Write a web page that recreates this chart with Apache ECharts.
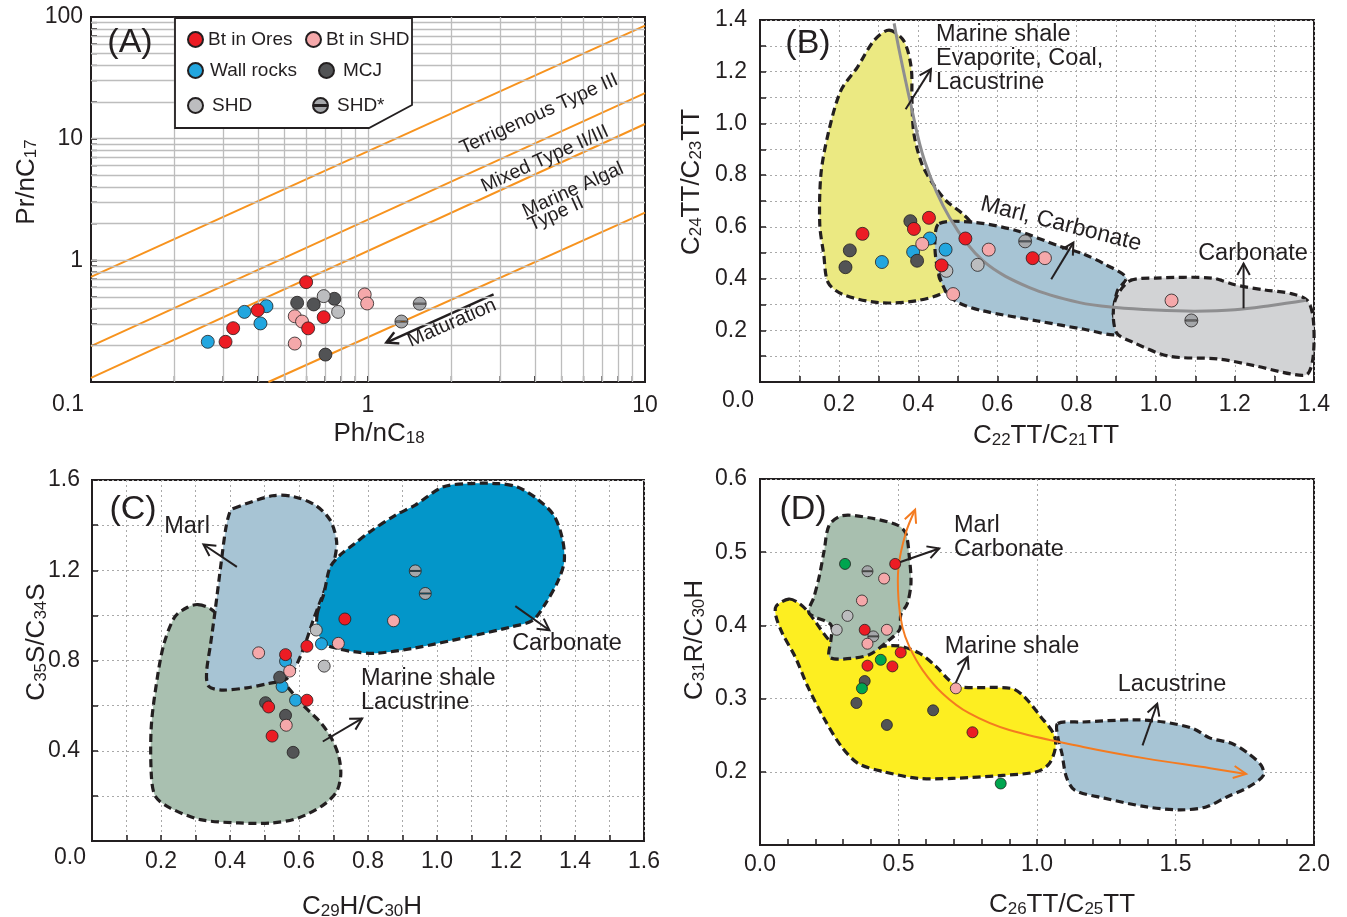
<!DOCTYPE html>
<html>
<head>
<meta charset="utf-8">
<title>Source rock biomarker plots</title>
<script src="https://cdn.jsdelivr.net/npm/echarts@6/dist/echarts.min.js"></script>
<style>
  html, body { margin: 0; background: #fff; }
  #chart { width: 1347px; height: 917px; }
</style>
</head>
<body>
<div id="chart"></div>
<script>
// ---------- (A) Pr/nC17 vs Ph/nC18 ----------
const aOres = [[0.306,0.214],[0.326,0.277],[0.400,0.389],[0.598,0.662],[0.692,0.341],[0.608,0.276]];
const aBtShd = [[0.544,0.347],[0.578,0.314],[0.544,0.207],[0.973,0.524],[0.993,0.442]];
const aWall = [[0.264,0.214],[0.358,0.377],[0.430,0.420],[0.409,0.303]];
const aMcj = [[0.555,0.448],[0.637,0.434],[0.756,0.483],[0.702,0.168]];
const aShd = [[0.692,0.508],[0.780,0.377]];
const aShdStar = [[1.32,0.314],[1.537,0.440]];
// kerogen type boundaries (two end points each)
const aTypeLines = [
  [[0.1,0.73],[10,85]],
  [[0.1,0.197],[10,23.7]],
  [[0.1,0.108],[10,13.2]],
  [[0.437,0.1],[10,2.47]]
];
const aMaturation = [[[2.84,0.524],[1.165,0.211]]];
const logGridX = [0.2,0.3,0.4,0.5,0.6,0.7,0.8,0.9,1,2,3,4,5,6,7,8,9];
const logGridY = [0.2,0.3,0.4,0.5,0.6,0.7,0.8,0.9,1,2,3,4,5,6,7,8,9,10,20,30,40,50,60,70,80,90];

// ---------- (B) C24TT/C23TT vs C22TT/C21TT ----------
const bOres = [[0.259,0.573],[0.389,0.592],[0.427,0.635],[0.519,0.555],[0.459,0.451],[0.689,0.479]];
const bBtShd = [[0.410,0.534],[0.578,0.512],[0.488,0.340],[0.720,0.479],[1.040,0.315]];
const bWall = [[0.308,0.464],[0.429,0.555],[0.387,0.503],[0.469,0.512]];
const bMcj = [[0.380,0.622],[0.227,0.509],[0.216,0.444],[0.397,0.469]];
const bShd = [[0.550,0.453],[0.471,0.430]];
const bShdStar = [[0.670,0.544],[1.090,0.238]];
const bZoneShale = [[0.326,1.361],[0.363,1.320],[0.382,1.217],[0.384,1.088],[0.389,0.959],[0.410,0.840],[0.440,0.760],[0.471,0.700],[0.514,0.648],[0.532,0.612],[0.458,0.597],[0.448,0.494],[0.453,0.404],[0.469,0.352],[0.394,0.314],[0.299,0.307],[0.209,0.339],[0.172,0.385],[0.161,0.494],[0.151,0.610],[0.154,0.804],[0.172,0.959],[0.204,1.126],[0.246,1.217],[0.288,1.320]];
const bZoneMarl = [[0.453,0.613],[0.543,0.617],[0.649,0.585],[0.755,0.526],[0.819,0.494],[0.872,0.455],[0.925,0.404],[0.903,0.352],[0.893,0.262],[0.903,0.185],[0.819,0.204],[0.702,0.236],[0.564,0.275],[0.501,0.307],[0.469,0.352],[0.448,0.443],[0.442,0.546]];
const bZoneCarb = [[0.933,0.390],[1.000,0.402],[1.142,0.402],[1.200,0.376],[1.275,0.356],[1.342,0.342],[1.383,0.316],[1.398,0.245],[1.398,0.100],[1.383,0.030],[1.342,0.031],[1.250,0.063],[1.158,0.089],[1.033,0.100],[0.942,0.154],[0.900,0.193],[0.896,0.309]];
const bTrend = [[0.339,1.387],[0.352,1.281],[0.379,1.088],[0.416,0.855],[0.479,0.636],[0.564,0.468],[0.681,0.365],[0.808,0.307],[0.900,0.288],[1.000,0.278],[1.100,0.274],[1.200,0.279],[1.292,0.296],[1.380,0.316]];
const bArrows = [[[0.368,1.055],[0.432,1.210]],[[0.736,0.397],[0.792,0.539]],[[1.222,0.285],[1.222,0.458]]];

// ---------- (C) C35S/C34S vs C29H/C30H ----------
const cOres = [[0.561,0.826],[0.512,0.594],[0.623,0.624],[0.522,0.465],[0.623,0.863],[0.733,0.984]];
const cBtShd = [[0.483,0.834],[0.573,0.753],[0.563,0.513],[0.714,0.876],[0.874,0.976]];
const cWall = [[0.561,0.797],[0.551,0.685],[0.590,0.624],[0.665,0.874]];
const cMcj = [[0.544,0.726],[0.503,0.613],[0.561,0.557],[0.583,0.393]];
const cShd = [[0.650,0.935],[0.673,0.775]];
const cShdStar = [[0.937,1.197],[0.966,1.097]];
const cZoneShale = [[0.307,1.048],[0.344,1.029],[0.40,0.95],[0.50,0.75],[0.555,0.70],[0.607,0.609],[0.665,0.521],[0.697,0.447],[0.716,0.37],[0.721,0.292],[0.709,0.219],[0.672,0.161],[0.598,0.102],[0.523,0.080],[0.425,0.080],[0.314,0.095],[0.227,0.146],[0.184,0.197],[0.172,0.292],[0.172,0.511],[0.190,0.730],[0.209,0.876],[0.240,0.993],[0.277,1.036]];
const cZoneMarl = [[0.410,1.474],[0.523,1.530],[0.585,1.526],[0.647,1.489],[0.690,1.423],[0.709,1.328],[0.702,1.241],[0.684,1.153],[0.659,1.051],[0.641,0.978],[0.622,0.891],[0.604,0.818],[0.585,0.759],[0.560,0.715],[0.511,0.698],[0.449,0.679],[0.375,0.669],[0.338,0.686],[0.332,0.745],[0.344,0.876],[0.357,1.022],[0.375,1.241],[0.388,1.387],[0.400,1.460]];
const cZoneCarb = [[0.653,1.007],[0.672,1.095],[0.690,1.212],[0.721,1.270],[0.758,1.314],[0.807,1.372],[0.881,1.445],[0.937,1.489],[1.017,1.569],[1.091,1.584],[1.178,1.584],[1.233,1.569],[1.289,1.518],[1.338,1.445],[1.363,1.343],[1.369,1.241],[1.351,1.153],[1.314,1.051],[1.277,0.978],[1.215,0.949],[1.091,0.905],[0.931,0.854],[0.820,0.832],[0.758,0.839],[0.709,0.854],[0.672,0.876],[0.653,0.934]];
const cArrows = [[[0.420,1.215],[0.323,1.314]],[[1.227,1.041],[1.326,0.934]],[[0.669,0.441],[0.783,0.543]]];

// ---------- (D) C31R/C30H vs C26TT/C25TT ----------
const dOres = [[0.488,0.484],[0.378,0.394],[0.508,0.363],[0.388,0.345],[0.478,0.344],[0.767,0.254]];
const dBtShd = [[0.448,0.464],[0.368,0.434],[0.458,0.394],[0.388,0.375],[0.707,0.314]];
const dMcj = [[0.378,0.324],[0.348,0.294],[0.458,0.264],[0.625,0.284]];
const dShd = [[0.316,0.413],[0.277,0.394]];
const dShdStar = [[0.388,0.474],[0.409,0.385]];
const dGreen = [[0.307,0.484],[0.436,0.353],[0.368,0.314],[0.869,0.184]];
const dZoneMarl = [[0.298,0.550],[0.394,0.547],[0.496,0.537],[0.526,0.526],[0.539,0.494],[0.545,0.458],[0.532,0.430],[0.508,0.414],[0.505,0.395],[0.466,0.380],[0.394,0.360],[0.298,0.354],[0.250,0.357],[0.256,0.380],[0.256,0.401],[0.177,0.417],[0.195,0.439],[0.214,0.467],[0.232,0.503],[0.250,0.537]];
const dZoneShale = [[0.104,0.436],[0.142,0.430],[0.177,0.417],[0.249,0.380],[0.30,0.366],[0.40,0.370],[0.50,0.372],[0.575,0.362],[0.635,0.344],[0.683,0.325],[0.719,0.316],[0.907,0.314],[0.953,0.303],[1.014,0.275],[1.060,0.252],[1.067,0.234],[1.044,0.211],[0.998,0.200],[0.876,0.195],[0.693,0.191],[0.570,0.191],[0.448,0.200],[0.356,0.211],[0.295,0.234],[0.234,0.271],[0.173,0.316],[0.127,0.357],[0.081,0.389],[0.058,0.412],[0.058,0.426]];
const dZoneLake = [[1.075,0.266],[1.167,0.268],[1.350,0.271],[1.457,0.268],[1.564,0.259],[1.625,0.246],[1.702,0.239],[1.763,0.225],[1.809,0.209],[1.817,0.195],[1.763,0.179],[1.687,0.166],[1.610,0.152],[1.518,0.148],[1.396,0.152],[1.243,0.164],[1.136,0.175],[1.106,0.193],[1.090,0.225],[1.075,0.248]];
const dTrend = [[0.560,0.558],[0.526,0.526],[0.500,0.480],[0.500,0.435],[0.514,0.398],[0.539,0.371],[0.587,0.339],[0.659,0.307],[0.755,0.280],[0.900,0.257],[1.167,0.234],[1.396,0.218],[1.625,0.205],[1.755,0.197]];
const dArrows = [[[0.494,0.485],[0.647,0.505]],[[0.695,0.312],[0.750,0.357]],[[1.381,0.236],[1.434,0.293]]];

// ---------- styling ----------
const FONT = '"Liberation Sans", Arial, Helvetica, sans-serif';
const INK = '#231f20';
const COL = {ores:'#ec1c24', btShd:'#f5a8aa', wall:'#22a6df', mcj:'#525355', shd:'#bcbdbf', star:'#a5a7aa', green:'#00a54f'};
const STAR = 'path://M0 -10 A10 10 0 1 1 0 10 A10 10 0 1 1 0 -10 Z M-8.6 -0.8 L-8.6 0.8 L8.6 0.8 L8.6 -0.8 Z';

function dots(name, data, gi, color, size, symbol) {
  return {
    name, type: 'scatter', xAxisIndex: gi, yAxisIndex: gi, data,
    symbol: symbol || 'circle', symbolSize: size, z: 5, silent: true,
    itemStyle: {color, borderColor: INK, borderWidth: 0.8, opacity: 1}
  };
}

function zone(gi, pts, fill) {
  return {
    type: 'custom', xAxisIndex: gi, yAxisIndex: gi, data: [pts[0]], silent: true, z: 1,
    renderItem: (params, api) => ({
      type: 'polygon',
      shape: {points: pts.map(p => api.coord(p)), smooth: 0.3},
      style: {fill, stroke: INK, lineWidth: 3.2, lineDash: [8, 4.5]}
    })
  };
}

// open arrow head: tip and the point it comes from (pixels)
function chevron(tip, from, len, ang) {
  const dx = from[0] - tip[0], dy = from[1] - tip[1];
  const d = Math.hypot(dx, dy), ux = dx / d, uy = dy / d;
  const c = Math.cos(ang), s = Math.sin(ang);
  return [
    [tip[0] + len * (ux * c - uy * s), tip[1] + len * (ux * s + uy * c)],
    tip,
    [tip[0] + len * (ux * c + uy * s), tip[1] + len * (-ux * s + uy * c)]
  ];
}

function arrows(gi, list, color, width) {
  return {
    type: 'custom', xAxisIndex: gi, yAxisIndex: gi, data: [list[0][0]], silent: true, z: 4,
    renderItem: (params, api) => {
      const kids = [];
      list.forEach(seg => {
        const a = api.coord(seg[0]), b = api.coord(seg[1]);
        kids.push({type: 'line', shape: {x1: a[0], y1: a[1], x2: b[0], y2: b[1]}, style: {stroke: color, lineWidth: width}});
        kids.push({type: 'polyline', shape: {points: chevron(b, a, 13, 0.5)}, style: {stroke: color, lineWidth: width, fill: 'none'}});
      });
      return {type: 'group', children: kids};
    }
  };
}

function curve(gi, pts, color, width, heads) {
  return {
    type: 'custom', xAxisIndex: gi, yAxisIndex: gi, data: [pts[0]], silent: true, z: 3,
    renderItem: (params, api) => {
      const px = pts.map(p => api.coord(p));
      const kids = [{type: 'polyline', shape: {points: px, smooth: 0.35}, style: {stroke: color, lineWidth: width, fill: 'none'}}];
      if (heads) {
        kids.push({type: 'polyline', shape: {points: chevron(px[0], px[1], 14, 0.45)}, style: {stroke: color, lineWidth: width, fill: 'none'}});
        const n = px.length;
        kids.push({type: 'polyline', shape: {points: chevron(px[n - 1], px[n - 2], 14, 0.45)}, style: {stroke: color, lineWidth: width, fill: 'none'}});
      }
      return {type: 'group', children: kids};
    }
  };
}

function panelDots(gi, s, size) {
  const out = [];
  if (s.wall) out.push(dots('Wall rocks', s.wall, gi, COL.wall, size));
  out.push(dots('MCJ', s.mcj, gi, COL.mcj, size));
  out.push(dots('SHD', s.shd, gi, COL.shd, size));
  out.push(dots('SHD*', s.star, gi, COL.star, size, STAR));
  if (s.green) out.push(dots('Other', s.green, gi, COL.green, size));
  out.push(dots('Bt in SHD', s.btShd, gi, COL.btShd, size));
  out.push(dots('Bt in Ores', s.ores, gi, COL.ores, size));
  return out;
}

const series = [];
// A: log grid lines + boundary lines
series.push({
  type: 'scatter', xAxisIndex: 0, yAxisIndex: 0, data: [], z: 1, silent: true,
  markLine: {
    silent: true, symbol: 'none', label: {show: false},
    lineStyle: {color: '#bdbdbd', width: 1.3, type: 'solid'},
    data: logGridX.map(v => ({xAxis: v})).concat(logGridY.map(v => ({yAxis: v})))
  }
});
// A: short minor ticks on the left and bottom axes
series.push({
  type: 'custom', xAxisIndex: 0, yAxisIndex: 0, data: [[1, 1]], silent: true, z: 3,
  renderItem: (params, api) => {
    const kids = [];
    logGridY.forEach(v => {
      const p = api.coord([0.1, v]);
      kids.push({type: 'line', shape: {x1: p[0], y1: p[1], x2: p[0] + 6, y2: p[1]}, style: {stroke: INK, lineWidth: 1.3}});
    });
    logGridX.forEach(v => {
      const p = api.coord([v, 0.1]);
      kids.push({type: 'line', shape: {x1: p[0], y1: p[1], x2: p[0], y2: p[1] - 6}, style: {stroke: INK, lineWidth: 1.3}});
    });
    return {type: 'group', children: kids};
  }
});
aTypeLines.forEach(l => series.push({
  type: 'line', xAxisIndex: 0, yAxisIndex: 0, data: l, symbol: 'none', z: 2, silent: true,
  lineStyle: {color: '#f7931e', width: 2}
}));
series.push(arrows(0, aMaturation, INK, 2.5));
series.push(...panelDots(0, {ores: aOres, btShd: aBtShd, wall: aWall, mcj: aMcj, shd: aShd, star: aShdStar}, 13));

// B
series.push(zone(1, bZoneShale, '#ebe982'), zone(1, bZoneMarl, '#a7c4d4'), zone(1, bZoneCarb, '#d2d3d5'));
series.push(curve(1, bTrend, '#8e8e90', 3, false));
series.push(arrows(1, bArrows, INK, 2));
series.push(...panelDots(1, {ores: bOres, btShd: bBtShd, wall: bWall, mcj: bMcj, shd: bShd, star: bShdStar}, 13));

// C
series.push(zone(2, cZoneShale, '#a9c0b0'), zone(2, cZoneMarl, '#a7c4d4'), zone(2, cZoneCarb, '#0396c9'));
series.push(arrows(2, cArrows, INK, 2));
series.push(...panelDots(2, {ores: cOres, btShd: cBtShd, wall: cWall, mcj: cMcj, shd: cShd, star: cShdStar}, 12));

// D
series.push(zone(3, dZoneShale, '#fdee21'), zone(3, dZoneMarl, '#a8bfaf'), zone(3, dZoneLake, '#a7c4d4'));
series.push(curve(3, dTrend, '#f47b20', 2, true));
series.push(arrows(3, dArrows, INK, 2));
series.push(...panelDots(3, {ores: dOres, btShd: dBtShd, mcj: dMcj, shd: dShd, star: dShdStar, green: dGreen}, 11));

// ---------- axes ----------
const axisLine = {lineStyle: {color: INK, width: 2}};
const tick = {inside: true, length: 6, lineStyle: {color: INK, width: 1.5}};
const dotted = {show: true, lineStyle: {color: '#a9a9a9', width: 1, type: [2, 3]}};
const every = step => v => {
  const k = Math.round(v / step);
  return (k > 0 && Math.abs(v - k * step) < 1e-6) ? v.toFixed(1) : '';
};
const lbl = (fmt, margin) => ({color: INK, fontSize: 23, fontFamily: FONT, formatter: fmt, margin});

const xAxis = [
  {gridIndex: 0, type: 'log', logBase: 10, min: 0.1, max: 10, axisLine, axisTick: tick, splitLine: {show: false},
   axisLabel: lbl(v => (v >= 1 ? String(v) : ''), 12)},
  {gridIndex: 1, type: 'value', min: 0, max: 1.4, interval: 0.1, axisLine, axisTick: tick, splitLine: dotted,
   axisLabel: lbl(every(0.2), 11)},
  {gridIndex: 2, type: 'value', min: 0, max: 1.6, interval: 0.1, axisLine, axisTick: tick, splitLine: dotted,
   axisLabel: lbl(every(0.2), 9)},
  {gridIndex: 3, type: 'value', min: 0, max: 2, interval: 0.5, axisLine, axisTick: tick, splitLine: dotted,
   minorTick: {show: true, splitNumber: 5, length: 6, lineStyle: {color: INK, width: 1.5}},
   axisLabel: lbl(v => v.toFixed(1), 8)}
];
const yAxis = [
  {gridIndex: 0, type: 'log', logBase: 10, min: 0.1, max: 100, axisLine, axisTick: tick, splitLine: {show: false},
   axisLabel: lbl(v => (v >= 1 ? String(v) : ''), 8)},
  {gridIndex: 1, type: 'value', min: 0, max: 1.4, interval: 0.1, axisLine, axisTick: tick, splitLine: dotted,
   axisLabel: lbl(every(0.2), 13)},
  {gridIndex: 2, type: 'value', min: 0, max: 1.6, interval: 0.2, axisLine, axisTick: tick, splitLine: dotted,
   axisLabel: lbl(every(0.4), 12)},
  {gridIndex: 3, type: 'value', min: 0.1, max: 0.6, interval: 0.1, axisLine, axisTick: tick, splitLine: dotted,
   axisLabel: lbl(v => (v > 0.15 ? v.toFixed(1) : ''), 13)}
];
const box = {show: true, borderColor: INK, borderWidth: 2, backgroundColor: 'transparent'};
const grid = [
  Object.assign({left: 91, top: 17, width: 554, height: 365}, box),
  Object.assign({left: 760, top: 20, width: 554, height: 362}, box),
  Object.assign({left: 92, top: 480, width: 552, height: 361}, box),
  Object.assign({left: 760, top: 479, width: 554, height: 366}, box)
];

// ---------- legend (panel A) ----------
const legendItems = [
  ['Bt in Ores', 187, 30, 0], ['Bt in SHD', 305, 30, 0],
  ['Wall rocks', 187, 61, 2], ['MCJ', 318, 61, 4],
  ['SHD', 187, 96, 4], ['SHD*', 312, 96, 4]
];
const legend = legendItems.map(it => ({
  data: [it[0]], left: it[1], top: it[2], padding: 0, z: 7, selectedMode: false,
  itemWidth: 15, itemHeight: 15,
  textStyle: {fontSize: 19, fontFamily: FONT, color: INK, padding: [0, 0, 0, it[3]]}
}));

// ---------- texts ----------
function txt(text, x, y, size, extra) {
  const st = {text, fill: INK, fontSize: size, fontFamily: FONT,
    align: 'center', verticalAlign: 'middle', textAlign: 'center', textVerticalAlign: 'middle'};
  const el = {type: 'text', x, y, z: 8, silent: true, style: st};
  if (extra) {
    if (extra.rotation) el.rotation = extra.rotation;
    if (extra.left) { st.align = 'left'; st.textAlign = 'left'; }
    if (extra.lineHeight) st.lineHeight = extra.lineHeight;
  }
  return el;
}
function axisTitle(parts, x, y, vertical) {
  const rich = {
    n: {fontSize: 26, fontFamily: FONT, fill: INK, lineHeight: 29, verticalAlign: 'bottom'},
    s: {fontSize: 17, fontFamily: FONT, fill: INK, lineHeight: 20, verticalAlign: 'bottom'}
  };
  const text = parts.map((p, i) => (i % 2 ? '{s|' : '{n|') + p + '}').join('');
  return {type: 'text', x, y, z: 8, silent: true, rotation: vertical ? Math.PI / 2 : 0,
    style: {text, rich, align: 'center', verticalAlign: 'middle', textAlign: 'center', textVerticalAlign: 'middle'}};
}
const SLOPE = 0.424;
const graphic = [
  {type: 'polygon', z: 6, silent: true, shape: {points: [[175,18],[412,18],[412,105],[369,128],[175,128]]},
   style: {fill: '#fff', stroke: INK, lineWidth: 1.8}},
  txt('(A)', 130, 43, 34),
  txt('Terrigenous Type III', 539, 114, 19.5, {rotation: SLOPE}),
  txt('Mixed Type II/III', 545, 159, 19.5, {rotation: SLOPE}),
  txt('Marine Algal', 573, 190, 19.5, {rotation: SLOPE}),
  txt('Type II', 556, 214, 19.5, {rotation: SLOPE}),
  txt('Maturation', 452, 323, 20, {rotation: 0.41}),
  txt('0.1', 68, 405, 23),
  txt('(B)', 808, 44, 34),
  txt('Marine shale\nEvaporite, Coal,\nLacustrine', 936, 59, 23.5, {left: true, lineHeight: 24}),
  txt('Marl, Carbonate', 1061, 224, 23, {rotation: -0.25}),
  txt('Carbonate', 1253, 254, 23.5),
  txt('0.0', 738, 401, 23),
  txt('(C)', 133, 510, 34),
  txt('Marl', 187, 527, 23.5),
  txt('Carbonate', 567, 644, 23.5),
  txt('Marine shale\nLacustrine', 361, 691, 23.5, {left: true, lineHeight: 24}),
  txt('0.0', 70, 858, 23),
  txt('(D)', 803, 510, 34),
  txt('Marl\nCarbonate', 954, 538, 23.5, {left: true, lineHeight: 24}),
  txt('Marine shale', 1012, 647, 23.5),
  txt('Lacustrine', 1172, 685, 23.5),
  axisTitle(['Pr/nC', '17'], 25, 182, true),
  axisTitle(['Ph/nC', '18'], 379, 432, false),
  axisTitle(['C', '24', 'TT/C', '23', 'TT'], 690, 182, true),
  axisTitle(['C', '22', 'TT/C', '21', 'TT'], 1046, 434, false),
  axisTitle(['C', '35', 'S/C', '34', 'S'], 35, 642, true),
  axisTitle(['C', '29', 'H/C', '30', 'H'], 362, 905, false),
  axisTitle(['C', '31', 'R/C', '30', 'H'], 693, 640, true),
  axisTitle(['C', '26', 'TT/C', '25', 'TT'], 1062, 903, false)
];

const chart = echarts.init(document.getElementById('chart'), null, {renderer: 'canvas'});
chart.setOption({
  backgroundColor: '#fff',
  animation: false,
  grid, xAxis, yAxis, legend, series, graphic
});
</script>
</body>
</html>
